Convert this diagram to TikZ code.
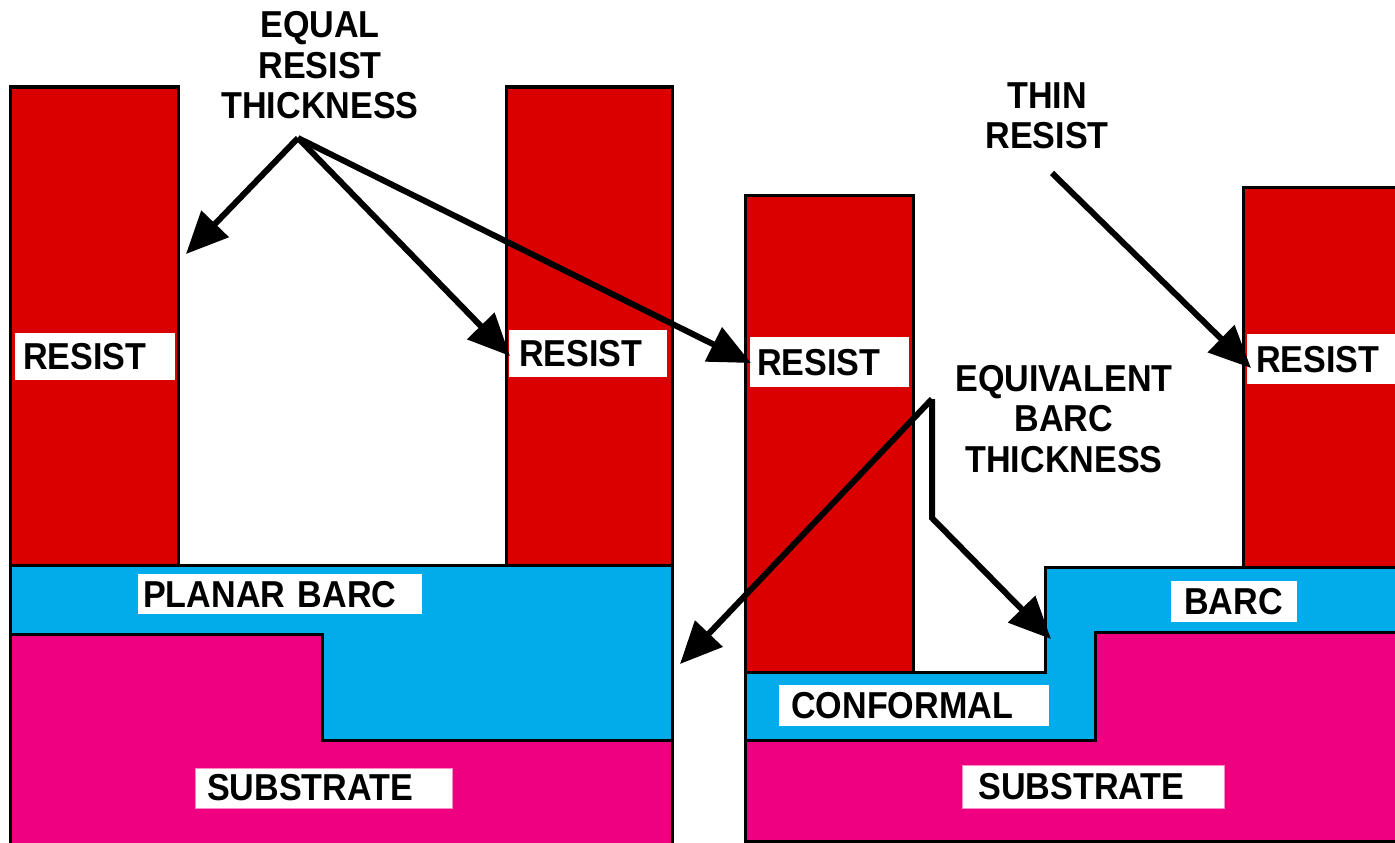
\documentclass[tikz,border=0pt]{standalone}
\usepackage{fontspec}
\newfontfamily\lblfont[FakeStretch=0.91]{Liberation Sans Bold}
\usetikzlibrary{arrows.meta}
\definecolor{resistred}{RGB}{218,0,0}
\definecolor{barcblue}{RGB}{2,171,233}
\definecolor{substr}{RGB}{238,0,128}
\begin{document}
\begin{tikzpicture}[x=1pt,y=-1pt,
  layer/.style={draw=black,line width=3pt,line join=miter},
  resistbox/.style={layer,fill=resistred},
  barcbox/.style={layer,fill=barcblue},
  subbox/.style={layer,fill=substr},
  lbl/.style={fill=white,anchor=north west,inner ysep=0pt,align=left,
    font=\lblfont\fontsize{37.5}{40.5}\selectfont},
  ttl/.style={inner sep=0pt,align=center,
    font=\lblfont\fontsize{37.5}{40.5}\selectfont},
  arr/.style={line width=6pt,line join=miter,-{Triangle[length=42pt,width=37pt]}},
  plain/.style={line width=6pt,line join=miter}]
\useasboundingbox (0,0) rectangle (1395,843);
\clip (0,0) rectangle (1395,843);
\fill[white] (0,0) rectangle (1395,843);

% ---------- left panel ----------
\draw[resistbox] (10,87) rectangle (178,565);
\draw[resistbox] (506,87) rectangle (672,565);
\draw[barcbox] (10,565) -- (672,565) -- (672,740) -- (322,740) -- (322,634) -- (10,634) -- cycle;
\draw[subbox] (10,634) -- (322,634) -- (322,740) -- (672,740) -- (672,860) -- (10,860) -- cycle;

% ---------- right panel ----------
\draw[resistbox] (745,195) rectangle (913,672);
\draw[resistbox] (1243,187) rectangle (1410,567);
\draw[barcbox] (745,672) -- (1045,672) -- (1045,567) -- (1410,567) -- (1410,632) -- (1095,632) -- (1095,740) -- (745,740) -- cycle;
\draw[subbox] (745,740) -- (1095,740) -- (1095,632) -- (1410,632) -- (1410,841) -- (745,841) -- cycle;

% ---------- labels in boxes ----------
\node[lbl,inner xsep=8pt,text width=144pt,minimum height=47pt] (rl1) at (15,333) {RESIST};
\node[lbl,inner xsep=10pt,text width=138pt,minimum height=47pt] (rl2) at (509,330) {RESIST};
\node[lbl,inner xsep=7pt,text width=145pt,minimum height=50pt] (rr1) at (750,337) {RESIST};
\node[lbl,inner xsep=9pt,text width=140pt,minimum height=50pt] (rr2) at (1247,334) {RESIST};
\node[lbl,inner xsep=5pt,text width=274pt,minimum height=40pt] (planar) at (138,574) {PLANAR BARC};
\node[lbl,inner xsep=12pt,text width=233pt,minimum height=40pt,
  draw=white!55!substr,line width=1pt,outer sep=0pt] (subl) at (195,768) {SUBSTRATE};
\node[lbl,inner xsep=12pt,text width=246pt,minimum height=41pt] (conf) at (779,685) {CONFORMAL};
\node[lbl,inner xsep=13pt,text width=100pt,minimum height=41pt] (barc) at (1171,581) {BARC};
\node[lbl,inner xsep=16pt,text width=230pt,minimum height=43pt,
  draw=white!55!substr,line width=1pt] (subr) at (962,765) {SUBSTRATE};

% ---------- titles ----------
\node[ttl] (eqtxt) at (320,65.5) {EQUAL\\RESIST\\THICKNESS};
\node[ttl] (thintxt) at (1047,116) {THIN\\RESIST};
\node[ttl] (equivtxt) at (1064,419) {EQUIVALENT\\BARC\\THICKNESS};

% ---------- arrow anchor points ----------
\coordinate (eqapex) at (298,138);
\coordinate (eqtip1) at (186,254);
\coordinate (eqtip2) at (510,356);
\coordinate (eqtip3) at (751,363);
\coordinate (thinstart) at (1052,173);
\coordinate (thintip) at (1251,368);
\coordinate (ebapex) at (932,399);
\coordinate (ebbend) at (932,518);
\coordinate (ebtip1) at (680,664);
\coordinate (ebtip2) at (1051,639);

\draw[arr] (eqapex) -- (eqtip1);
\draw[arr] (eqapex) -- (eqtip2);
\draw[arr] (eqapex) -- (eqtip3);
\draw[arr] (thinstart) -- (thintip);
\draw[arr] (ebapex) -- (ebtip1);
\draw[arr] (ebapex) -- (ebbend) -- (ebtip2);
\end{tikzpicture}
\end{document}
